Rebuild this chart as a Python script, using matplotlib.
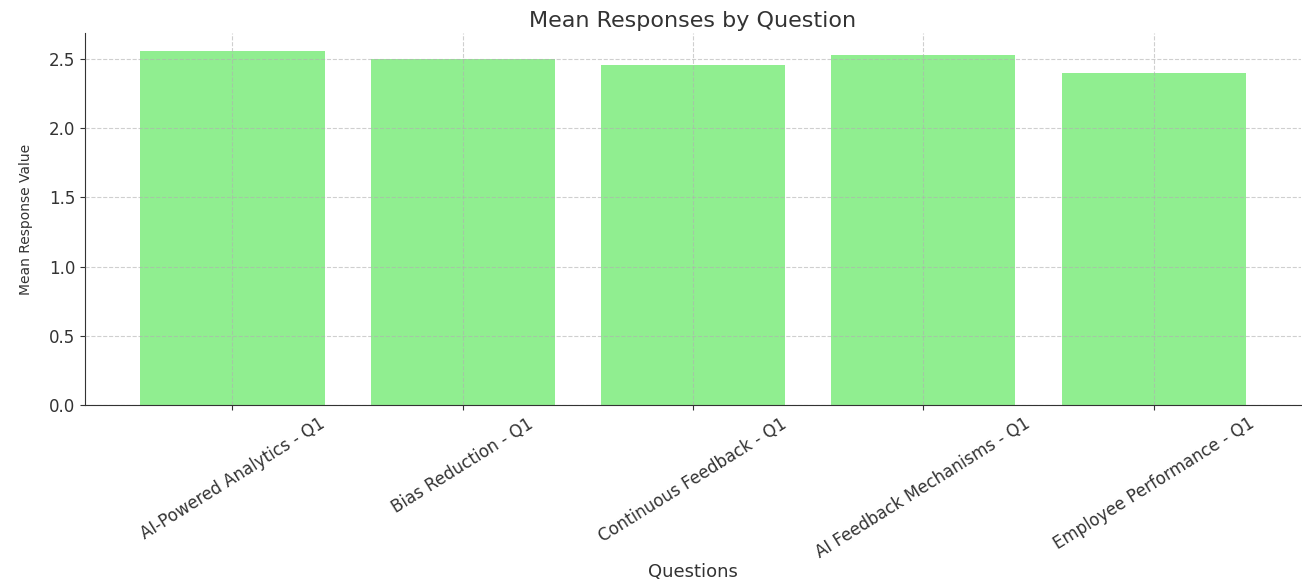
import matplotlib.pyplot as plt

questions = [
    'AI-Powered Analytics - Q1',
    'Bias Reduction - Q1',
    'Continuous Feedback - Q1',
    'AI Feedback Mechanisms - Q1',
    'Employee Performance - Q1',
]
mean_values = [2.56, 2.50, 2.46, 2.53, 2.40]

fig = plt.figure(figsize=(13.02, 5.79), dpi=100)
ax = fig.add_axes([0.0653, 0.3005, 0.934, 0.6425])

ax.bar(questions, mean_values, color='lightgreen', width=0.8, zorder=1)

ax.set_title('Mean Responses by Question', fontsize=16, color='#333333', pad=4)
ax.set_xlabel('Questions', fontsize=13, color='#333333')
ax.set_ylabel('Mean Response Value', fontsize=10, color='#333333')
ax.xaxis.set_label_coords(0.5, -0.425)
ax.yaxis.set_label_coords(-0.043, 0.5)

ax.grid(True, linestyle='--', color='#b0b0b0', alpha=0.6, linewidth=0.8, zorder=2)
ax.set_axisbelow(False)

plt.setp(ax.get_xticklabels(), rotation=32, ha='center', fontsize=12, color='#333333')
ax.tick_params(axis='y', labelsize=12, labelcolor='#333333')
ax.tick_params(colors='#333333')

for side in ['top', 'right']:
    ax.spines[side].set_visible(False)
for side in ['left', 'bottom']:
    ax.spines[side].set_color('#333333')

fig.savefig('out.png', dpi=100)
